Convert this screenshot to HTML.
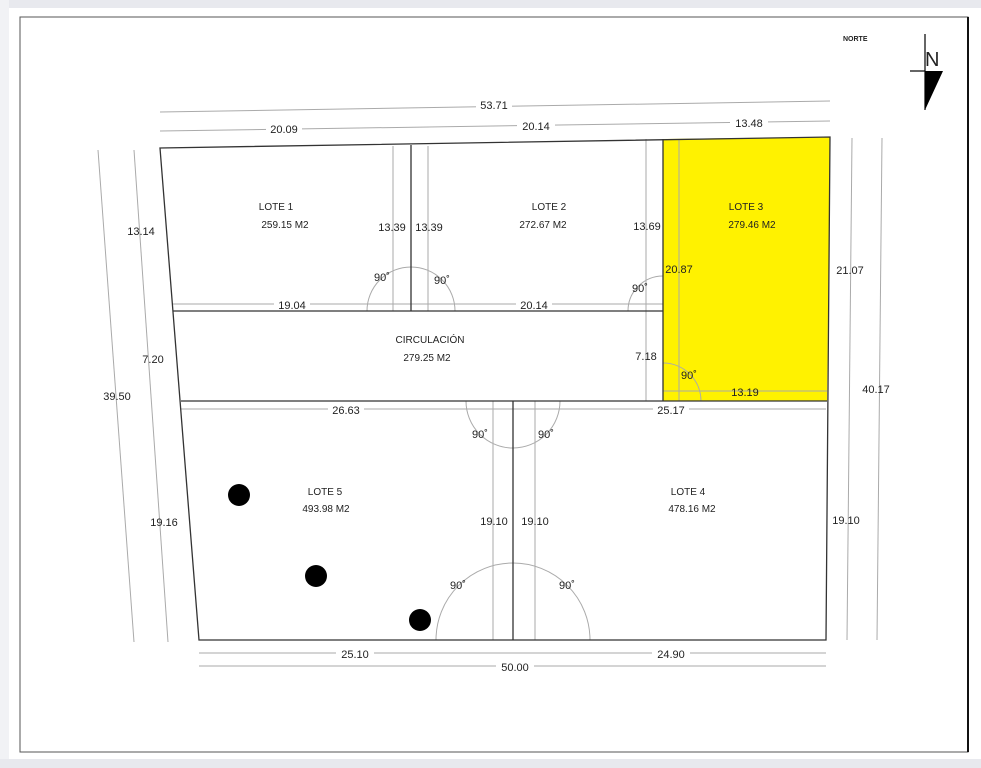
<!DOCTYPE html>
<html><head><meta charset="utf-8"><style>
html,body{margin:0;padding:0;background:#fff;}
svg{display:block;}
text{font-family:"Liberation Sans",sans-serif;fill:#222;}
</style></head><body>
<svg width="981" height="768" viewBox="0 0 981 768" xmlns="http://www.w3.org/2000/svg">
<rect x="0" y="0" width="981" height="768" fill="#fff"/>
<rect x="0" y="0" width="981" height="8" fill="#e8e9ee"/>
<rect x="0" y="0" width="9" height="768" fill="#f1f2f5"/>
<rect x="0" y="759" width="981" height="9" fill="#e8e9ee"/>
<rect x="20" y="17" width="948" height="735" fill="#fff" stroke="#555" stroke-width="1"/>
<line x1="968" y1="17" x2="968" y2="752" stroke="#111" stroke-width="2"/>

<!-- north -->
<text x="843" y="41" font-size="7" font-weight="bold">NORTE</text>
<line x1="925" y1="34" x2="925" y2="110" stroke="#000" stroke-width="1.2"/>
<line x1="910" y1="71" x2="925" y2="71" stroke="#000" stroke-width="1.2"/>
<polygon points="925,71 943,71 925,110" fill="#000"/>
<text x="925" y="66" font-size="20">N</text>

<!-- yellow lote 3 -->
<polygon points="663,139 830,137 827,401 663,401" fill="#fff200"/>

<g stroke="#aaa" stroke-width="1" fill="none">
<!-- top dims -->
<line x1="160" y1="112" x2="830" y2="101"/>
<line x1="160" y1="131" x2="830" y2="121"/>
<!-- left dims -->
<line x1="98" y1="150" x2="134" y2="642"/>
<line x1="134" y1="150" x2="168" y2="642"/>
<!-- right dims -->
<line x1="852" y1="138" x2="847" y2="640"/>
<line x1="882" y1="138" x2="877" y2="640"/>
<!-- bottom dims -->
<line x1="199" y1="653" x2="826" y2="653"/>
<line x1="199" y1="666" x2="826" y2="666"/>
<!-- internal gray -->
<line x1="393" y1="146" x2="393" y2="311"/>
<line x1="428" y1="146" x2="428" y2="311"/>
<line x1="646" y1="139" x2="646" y2="401"/>
<line x1="679" y1="139" x2="679" y2="401"/>
<line x1="493" y1="401" x2="493" y2="640"/>
<line x1="535" y1="401" x2="535" y2="640"/>
<line x1="173" y1="304" x2="663" y2="304"/>
<line x1="181" y1="409" x2="826" y2="409"/>
<line x1="663" y1="391" x2="827" y2="391"/>
<!-- arcs -->
<path d="M367,311 A44,44 0 0 1 455,311"/>
<path d="M628,311 A35,35 0 0 1 663,276"/>
<path d="M663,363 A38,38 0 0 1 701,401"/>
<path d="M466,401 A47,47 0 0 0 560,401"/>
<path d="M436,640 A77,77 0 0 1 590,640"/>
</g>

<g stroke="#333" stroke-width="1.3" fill="none">
<polygon points="160,148 830,137 826,640 199,640"/>
<line x1="173" y1="311" x2="663" y2="311"/>
<line x1="181" y1="401" x2="827" y2="401"/>
<line x1="411" y1="145" x2="411" y2="311"/>
<line x1="663" y1="139" x2="663" y2="401"/>
<line x1="513" y1="401" x2="513" y2="640"/>
</g>

<!-- trees -->
<circle cx="239" cy="495" r="11" fill="#000"/>
<circle cx="316" cy="576" r="11" fill="#000"/>
<circle cx="420" cy="620" r="11" fill="#000"/>

<g font-size="11" text-anchor="middle" fill="#222">
<rect x="476" y="98" width="36" height="12" fill="#fff"/>
<text x="494" y="109">53.71</text>
<rect x="266" y="122" width="36" height="12" fill="#fff"/>
<text x="284" y="133">20.09</text>
<rect x="517" y="119" width="38" height="12" fill="#fff"/>
<text x="536" y="130">20.14</text>
<rect x="730" y="116" width="38" height="12" fill="#fff"/>
<text x="749" y="127">13.48</text>

<text x="276" y="210" font-size="10">LOTE 1</text>
<text x="285" y="228" font-size="10">259.15 M2</text>
<text x="549" y="210" font-size="10">LOTE 2</text>
<text x="543" y="228" font-size="10">272.67 M2</text>
<text x="746" y="210" font-size="10">LOTE 3</text>
<text x="752" y="228" font-size="10">279.46 M2</text>
<text x="430" y="343" font-size="10">CIRCULACIÓN</text>
<text x="427" y="361" font-size="10">279.25 M2</text>
<text x="325" y="495" font-size="10">LOTE 5</text>
<text x="326" y="512" font-size="10">493.98 M2</text>
<text x="688" y="495" font-size="10">LOTE 4</text>
<text x="692" y="512" font-size="10">478.16 M2</text>

<text x="141" y="235">13.14</text>
<text x="392" y="231">13.39</text>
<text x="429" y="231">13.39</text>
<text x="647" y="230">13.69</text>
<text x="679" y="273">20.87</text>
<text x="850" y="274">21.07</text>
<text x="382" y="281">90˚</text>
<text x="442" y="284">90˚</text>
<text x="640" y="292">90˚</text>
<rect x="274" y="299" width="36" height="11" fill="#fff"/>
<text x="292" y="309">19.04</text>
<rect x="516" y="299" width="36" height="11" fill="#fff"/>
<text x="534" y="309">20.14</text>
<text x="153" y="363">7.20</text>
<text x="646" y="360">7.18</text>
<text x="689" y="379">90˚</text>
<text x="745" y="396">13.19</text>
<text x="117" y="400">39.50</text>
<text x="876" y="393">40.17</text>
<rect x="328" y="404" width="36" height="11" fill="#fff"/>
<text x="346" y="414">26.63</text>
<rect x="653" y="404" width="36" height="11" fill="#fff"/>
<text x="671" y="414">25.17</text>
<text x="480" y="438">90˚</text>
<text x="546" y="438">90˚</text>
<text x="164" y="526">19.16</text>
<text x="494" y="525">19.10</text>
<text x="535" y="525">19.10</text>
<text x="846" y="524">19.10</text>
<text x="458" y="589">90˚</text>
<text x="567" y="589">90˚</text>
<rect x="336" y="648" width="38" height="11" fill="#fff"/>
<text x="355" y="658">25.10</text>
<rect x="652" y="648" width="38" height="11" fill="#fff"/>
<text x="671" y="658">24.90</text>
<rect x="496" y="661" width="38" height="11" fill="#fff"/>
<text x="515" y="671">50.00</text>
</g>
</svg>
</body></html>
